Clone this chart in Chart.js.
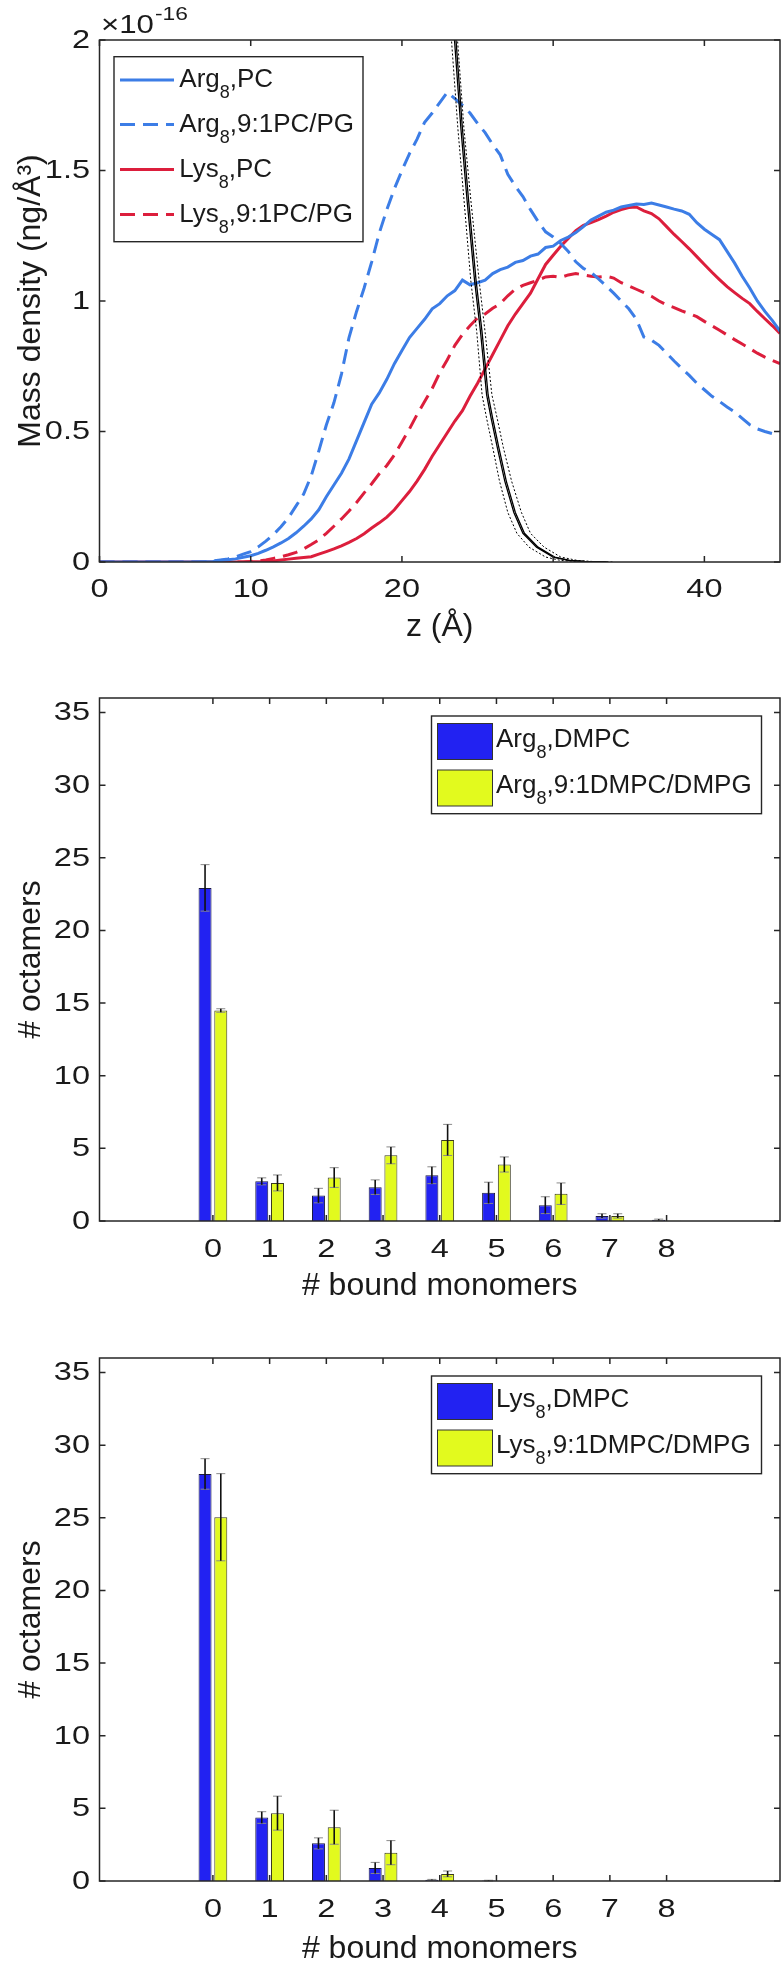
<!DOCTYPE html>
<html>
<head>
<meta charset="utf-8">
<script src="https://cdn.jsdelivr.net/npm/chart.js@4.4.1/dist/chart.umd.min.js"></script>
<style>
  body { margin: 0; background: #fff; overflow: hidden; }
  .panel { position: absolute; left: 0; width: 784px; }
</style>
</head>
<body>
<div class="panel" style="top:0;height:660px"><canvas id="densityChart"></canvas></div>
<div class="panel" style="top:660px;height:660px"><canvas id="argChart"></canvas></div>
<div class="panel" style="top:1320px;height:644px"><canvas id="lysChart"></canvas></div>
<script>
// ---- panel 1: mass density profiles ----
const zGrid = [0, 1, 2, 3, 4, 5, 6,
  7, 7.5, 8, 8.5, 9, 9.5, 10, 10.5, 11, 11.5, 12, 12.5, 13, 13.5, 14, 14.5, 15, 15.5,
  16, 16.5, 17, 17.5, 18, 18.5, 19, 19.5, 20, 20.5, 21, 21.5, 22, 22.5, 23, 23.5, 24, 24.5,
  25, 25.5, 26, 26.5, 27, 27.5, 28, 28.5, 29, 29.5, 30, 30.5, 31, 31.5, 32, 32.5, 33, 33.5,
  34, 34.5, 35, 35.5, 36, 36.5, 37, 37.5, 38, 38.5, 39, 39.5, 40, 40.5, 41, 41.5, 42, 42.5,
  43, 43.5, 44, 44.5, 45];

const argPC = [0, 0, 0, 0, 0, 0, 0,
  0.001, 0.002, 0.006, 0.009, 0.012, 0.018, 0.024, 0.033, 0.045, 0.058, 0.073, 0.09, 0.112, 0.137, 0.165, 0.2, 0.25, 0.295,
  0.34, 0.395, 0.465, 0.535, 0.605, 0.648, 0.7, 0.76, 0.81, 0.86, 0.895, 0.93, 0.97, 0.99, 1.02, 1.04, 1.08, 1.062,
  1.07, 1.08, 1.105, 1.12, 1.13, 1.148, 1.155, 1.172, 1.18, 1.205, 1.21, 1.232, 1.245, 1.262, 1.285, 1.31, 1.325, 1.34,
  1.348, 1.36, 1.366, 1.372, 1.37, 1.375, 1.368, 1.36, 1.352, 1.345, 1.332, 1.3, 1.275, 1.255, 1.235, 1.19, 1.145, 1.095,
  1.05, 1.0, 0.96, 0.925, 0.885];

const argPG = [0, 0, 0, 0, 0, 0, 0,
  0.001, 0.004, 0.008, 0.012, 0.02, 0.03, 0.04, 0.058, 0.08, 0.105, 0.135, 0.17, 0.215, 0.26, 0.33, 0.425, 0.525, 0.61,
  0.72, 0.86, 0.96, 1.05, 1.15, 1.26, 1.35, 1.43, 1.5, 1.565, 1.62, 1.685, 1.72, 1.76, 1.8, 1.775, 1.75, 1.72,
  1.68, 1.645, 1.6, 1.56, 1.485, 1.44, 1.4, 1.35, 1.305, 1.265, 1.245, 1.22, 1.19, 1.15, 1.125, 1.11, 1.085, 1.058,
  1.03, 1.0, 0.97, 0.93, 0.862, 0.85, 0.83, 0.8, 0.77, 0.742, 0.715, 0.685, 0.66, 0.635, 0.615, 0.594, 0.575, 0.55,
  0.526, 0.51, 0.5, 0.492, 0.5];

const lysPC = [0, 0, 0, 0, 0, 0, 0,
  0, 0, 0, 0, 0, 0, 0.001, 0.001, 0.002, 0.004, 0.008, 0.011, 0.014, 0.017, 0.02, 0.03, 0.04, 0.05,
  0.062, 0.075, 0.09, 0.108, 0.13, 0.15, 0.172, 0.2, 0.235, 0.27, 0.31, 0.355, 0.405, 0.45, 0.495, 0.54, 0.58, 0.635,
  0.685, 0.74, 0.795, 0.85, 0.905, 0.95, 0.99, 1.03, 1.085, 1.14, 1.175, 1.21, 1.24, 1.27, 1.29, 1.3, 1.312, 1.325,
  1.34, 1.35, 1.358, 1.36, 1.345, 1.335, 1.315, 1.285, 1.255, 1.228, 1.2, 1.17, 1.14, 1.11, 1.082, 1.055, 1.032, 1.01,
  0.99, 0.96, 0.932, 0.905, 0.876];

const lysPG = [0, 0, 0, 0, 0, 0, 0,
  0, 0, 0, 0, 0, 0, 0.002, 0.004, 0.008, 0.014, 0.02, 0.028, 0.037, 0.05, 0.067, 0.085, 0.11, 0.137,
  0.165, 0.195, 0.228, 0.265, 0.3, 0.338, 0.37, 0.41, 0.46, 0.51, 0.565, 0.615, 0.665, 0.725, 0.775, 0.83, 0.872, 0.905,
  0.935, 0.95, 0.972, 0.99, 1.02, 1.045, 1.06, 1.07, 1.08, 1.092, 1.095, 1.09, 1.1, 1.105, 1.1, 1.095, 1.092, 1.095,
  1.088, 1.07, 1.058, 1.045, 1.032, 1.018, 1.0, 0.985, 0.975, 0.962, 0.952, 0.94, 0.922, 0.905, 0.888, 0.87, 0.852, 0.835,
  0.818, 0.8, 0.785, 0.772, 0.76];

// lipid head-group density (black), solid pair and dotted envelope
const lipidV     = [2.85, 2.45, 2.06, 1.66, 1.39, 1.08, 0.88, 0.64, 0.55, 0.44, 0.31, 0.19, 0.11, 0.057, 0.019, 0.006, 0.002, 0];
const lipidZa    = [22.4, 22.9, 23.4, 23.9, 24.3, 24.8, 25.2, 25.6, 25.9, 26.3, 26.8, 27.4, 28.0, 28.9, 30.0, 31.0, 32.0, 33.5];
const lipidZb    = [22.5, 23.0, 23.5, 24.0, 24.4, 24.9, 25.3, 25.7, 26.0, 26.4, 26.9, 27.5, 28.1, 29.0, 30.1, 31.1, 32.1, 33.6];
const lipidZlo   = [22.2, 22.7, 23.2, 23.7, 24.1, 24.55, 24.95, 25.3, 25.6, 26.0, 26.45, 27.0, 27.6, 28.4, 29.5, 30.5, 31.5, 33.0];
const lipidZhi   = [22.6, 23.1, 23.6, 24.1, 24.55, 25.1, 25.5, 25.95, 26.3, 26.7, 27.25, 27.9, 28.5, 29.4, 30.5, 31.6, 32.6, 34.0];

const zTicks = [0, 10, 20, 30, 40];
const densityTicks = [0, 0.5, 1, 1.5, 2];

// ---- panels 2 and 3: bound monomers ----
const monomers = [0, 1, 2, 3, 4, 5, 6, 7, 8];
const countTicks = [0, 5, 10, 15, 20, 25, 30, 35];

const argDMPC      = [22.93, 2.73, 1.75, 2.33, 3.15, 1.94, 1.09, 0.35, 0.08];
const argDMPCErr   = [1.6, 0.24, 0.5, 0.5, 0.58, 0.73, 0.58, 0.15, 0.05];
const argMix       = [14.49, 2.62, 2.99, 4.52, 5.58, 3.89, 1.88, 0.35, 0.02];
const argMixErr    = [0.12, 0.55, 0.68, 0.58, 1.07, 0.52, 0.74, 0.15, 0];

const lysDMPC      = [28.02, 4.37, 2.59, 0.9, 0.08, 0.03, 0, 0, 0];
const lysDMPCErr   = [1.05, 0.4, 0.38, 0.38, 0.03, 0.02, 0, 0, 0];
const lysMix       = [25.04, 4.67, 3.7, 1.95, 0.49, 0, 0, 0, 0];
const lysMixErr    = [3.0, 1.17, 1.17, 0.83, 0.2, 0, 0, 0, 0];

const FONT = "'Liberation Sans', Arial, Helvetica, sans-serif";
const TEXT = '#1a1a1a';
const AXIS = '#262626';
const BLUE = '#3c7de6';
const RED = '#dc1e3c';
const BAR_BLUE = '#2222f2';
const BAR_YELLOW = '#e2fa1e';

Chart.defaults.font.family = FONT;
Chart.defaults.color = TEXT;

const pts = (xs, ys) => xs.map((x, i) => ({ x: x, y: ys[i] }));

// text with _x subscripts
function drawRich(ctx, text, x, y, size, subSize, subDrop) {
  const parts = text.split(/_(\w)/);
  let cx = x;
  parts.forEach((p, i) => {
    if (!p) return;
    const sub = i % 2 === 1;
    ctx.font = (sub ? subSize : size) + 'px ' + FONT;
    ctx.fillText(p, cx, sub ? y + subDrop : y);
    cx += ctx.measureText(p).width;
  });
}

// the tick numbers in the figure are wide, so draw them a bit stretched
function wideText(ctx, text, x, y, sx) {
  ctx.save();
  ctx.translate(x, y);
  ctx.scale(sx, 1);
  ctx.fillText(text, 0, 0);
  ctx.restore();
}

// matlab style box with inward ticks on all sides, plus tick labels
const boxAxes = {
  id: 'boxAxes',
  afterDatasetsDraw(chart, args, o) {
    const { ctx, chartArea: a, scales } = chart;
    const tl = 6;
    ctx.save();
    ctx.strokeStyle = AXIS;
    ctx.lineWidth = 1.5;
    ctx.beginPath();
    scales.x.ticks.forEach(t => {
      const px = scales.x.getPixelForValue(t.value);
      ctx.moveTo(px, a.bottom); ctx.lineTo(px, a.bottom - tl);
      ctx.moveTo(px, a.top); ctx.lineTo(px, a.top + tl);
    });
    scales.y.ticks.forEach(t => {
      const py = scales.y.getPixelForValue(t.value);
      ctx.moveTo(a.left, py); ctx.lineTo(a.left + tl, py);
      ctx.moveTo(a.right, py); ctx.lineTo(a.right - tl, py);
    });
    ctx.stroke();
    ctx.strokeRect(a.left, a.top, a.right - a.left, a.bottom - a.top);

    ctx.fillStyle = TEXT;
    ctx.font = o.size + 'px ' + FONT;
    ctx.textBaseline = 'middle';
    ctx.textAlign = 'center';
    scales.x.ticks.forEach(t => {
      wideText(ctx, String(t.value), scales.x.getPixelForValue(t.value), a.bottom + o.xGap, o.sx);
    });
    ctx.textAlign = 'right';
    scales.y.ticks.forEach(t => {
      wideText(ctx, String(t.value), a.left - o.yGap, scales.y.getPixelForValue(t.value) + 1, o.sx);
    });
    ctx.restore();
  }
};

// error bars read from dataset.errors
const errorBars = {
  id: 'errorBars',
  afterDatasetsDraw(chart) {
    const { ctx, scales } = chart;
    ctx.save();
    chart.data.datasets.forEach((ds, d) => {
      if (!ds.errors) return;
      chart.getDatasetMeta(d).data.forEach((bar, i) => {
        const v = ds.data[i].y, e = ds.errors[i];
        if (!e) return;
        const hi = scales.y.getPixelForValue(v + e);
        const lo = scales.y.getPixelForValue(Math.max(v - e, 0));
        ctx.strokeStyle = '#8a8a8a';
        ctx.lineWidth = 1;
        ctx.beginPath();
        ctx.moveTo(bar.x - 4.5, hi); ctx.lineTo(bar.x + 4.5, hi);
        ctx.moveTo(bar.x - 4.5, lo); ctx.lineTo(bar.x + 4.5, lo);
        ctx.stroke();
        ctx.strokeStyle = '#111';
        ctx.lineWidth = 1.6;
        ctx.beginPath();
        ctx.moveTo(bar.x, hi); ctx.lineTo(bar.x, lo);
        ctx.stroke();
      });
    });
    ctx.restore();
  }
};

// boxed legend with subscripts
const boxLegend = {
  id: 'boxLegend',
  afterDraw(chart, args, o) {
    if (!o || !o.rows) return;
    const { ctx, chartArea: a } = chart;
    const bx = a.left + o.left, by = a.top + o.top;
    ctx.save();
    ctx.fillStyle = '#fff';
    ctx.fillRect(bx, by, o.width, o.height);
    ctx.strokeStyle = AXIS;
    ctx.lineWidth = 1.4;
    ctx.strokeRect(bx, by, o.width, o.height);
    chart.data.datasets.filter(d => d.label).forEach((d, i) => {
      const base = by + o.rows[i];
      if (o.kind === 'line') {
        ctx.strokeStyle = d.borderColor;
        ctx.lineWidth = d.borderWidth;
        ctx.setLineDash(d.borderDash || []);
        ctx.beginPath();
        ctx.moveTo(bx + o.sample[0], base - o.lift);
        ctx.lineTo(bx + o.sample[1], base - o.lift);
        ctx.stroke();
        ctx.setLineDash([]);
      } else {
        ctx.fillStyle = d.backgroundColor;
        ctx.fillRect(bx + o.sample[0], base - o.lift, o.sample[1] - o.sample[0], o.patchH);
        ctx.strokeStyle = '#333';
        ctx.lineWidth = 1;
        ctx.strokeRect(bx + o.sample[0], base - o.lift, o.sample[1] - o.sample[0], o.patchH);
      }
      ctx.fillStyle = TEXT;
      ctx.textBaseline = 'alphabetic';
      ctx.textAlign = 'left';
      drawRich(ctx, d.label, bx + o.textX, base, o.size, o.subSize, o.subDrop);
    });
    ctx.restore();
  }
};

// x10^-16 multiplier above the y axis
const multiplier = {
  id: 'multiplier',
  afterDraw(chart, args, o) {
    if (!o || !o.text) return;
    const { ctx } = chart;
    ctx.save();
    ctx.fillStyle = TEXT;
    ctx.textBaseline = 'alphabetic';
    ctx.textAlign = 'left';
    ctx.font = '26px ' + FONT;
    wideText(ctx, o.text, o.x, o.y, 1.2);
    const w = ctx.measureText(o.text).width * 1.2;
    ctx.font = '19px ' + FONT;
    wideText(ctx, o.exp, o.x + w + 1, o.y - 13, 1.2);
    ctx.restore();
  }
};

const fixTicks = list => s => { s.ticks = list.map(v => ({ value: v })); };
const TITLE_SIZE = 32;

function axisX(opts) {
  return Object.assign({
    type: 'linear',
    offset: false,
    grid: { display: false, drawTicks: false },
    border: { display: false },
    ticks: { display: false },
  }, opts);
}
function axisY(opts) {
  return Object.assign({
    type: 'linear',
    grid: { display: false, drawTicks: false },
    border: { display: false },
    afterFit: s => { s.width = 99.5; },
    ticks: { display: false },
  }, opts);
}

const lineStyle = { pointRadius: 0, borderWidth: 3, tension: 0, fill: false };
const lipidStyle = { pointRadius: 0, borderColor: '#000', tension: 0, fill: false, order: -1 };

new Chart(document.getElementById('densityChart'), {
  type: 'line',
  data: {
    datasets: [
      Object.assign({ label: 'Arg_8,PC', data: pts(zGrid, argPC), borderColor: BLUE }, lineStyle),
      Object.assign({ label: 'Arg_8,9:1PC/PG', data: pts(zGrid, argPG), borderColor: BLUE, borderDash: [15, 8] }, lineStyle),
      Object.assign({ label: 'Lys_8,PC', data: pts(zGrid, lysPC), borderColor: RED }, lineStyle),
      Object.assign({ label: 'Lys_8,9:1PC/PG', data: pts(zGrid, lysPG), borderColor: RED, borderDash: [15, 8] }, lineStyle),
      Object.assign({ data: pts(lipidZa, lipidV), borderWidth: 1.3 }, lipidStyle),
      Object.assign({ data: pts(lipidZb, lipidV), borderWidth: 1.3 }, lipidStyle),
      Object.assign({ data: pts(lipidZlo, lipidV), borderWidth: 1, borderDash: [2, 2] }, lipidStyle),
      Object.assign({ data: pts(lipidZhi, lipidV), borderWidth: 1, borderDash: [2, 2] }, lipidStyle)
    ]
  },
  options: {
    responsive: true,
    maintainAspectRatio: false,
    animation: false,
    events: [],
    layout: { padding: { top: 40, right: 4, left: 0, bottom: 0 } },
    scales: {
      x: axisX({
        min: 0, max: 45,
        afterBuildTicks: fixTicks(zTicks),
        afterFit: s => { s.height = 98; },
        title: { display: true, text: 'z (Å)', font: { size: TITLE_SIZE }, color: TEXT, padding: { top: 0, bottom: 13.8 } }
      }),
      y: axisY({
        min: 0, max: 2,
        afterBuildTicks: fixTicks(densityTicks),
        title: { display: true, text: 'Mass density (ng/Å³)', font: { size: TITLE_SIZE }, color: TEXT, padding: { top: 11.8, bottom: 0 } }
      })
    },
    plugins: {
      legend: { display: false },
      tooltip: { enabled: false },
      boxAxes: { size: 25, sx: 1.3, xGap: 28, yGap: 9.5 },
      boxLegend: { kind: 'line', left: 14.5, top: 16.7, width: 249, height: 185,
        rows: [30.6, 75, 120, 165], lift: 7.3, sample: [6, 60], textX: 65.3, size: 26, subSize: 18, subDrop: 11 },
      multiplier: { text: '×10', exp: '-16', x: 101, y: 33 }
    }
  },
  plugins: [boxAxes, boxLegend, multiplier]
});

function monomerChart(id, labels, series, errs, xPadBottom, xAxisH) {
  return new Chart(document.getElementById(id), {
    type: 'bar',
    data: {
      datasets: [
        { label: labels[0], data: pts(monomers, series[0]), errors: errs[0], backgroundColor: BAR_BLUE, borderColor: '#1a1a40', borderWidth: 1 },
        { label: labels[1], data: pts(monomers, series[1]), errors: errs[1], backgroundColor: BAR_YELLOW, borderColor: '#3a3a20', borderWidth: 1 }
      ]
    },
    options: {
      responsive: true,
      maintainAspectRatio: false,
      animation: false,
      events: [],
      categoryPercentage: 0.555,
      barPercentage: 0.825,
      layout: { padding: { top: 38, right: 4, left: 0, bottom: 0 } },
      scales: {
        x: axisX({
          min: -2, max: 10,
          afterBuildTicks: fixTicks(monomers),
          afterFit: s => { s.height = xAxisH; },
          title: { display: true, text: '# bound monomers', font: { size: TITLE_SIZE }, color: TEXT, padding: { top: 0, bottom: xPadBottom } }
        }),
        y: axisY({
          min: 0, max: 36,
          afterBuildTicks: fixTicks(countTicks),
          title: { display: true, text: '# octamers', font: { size: TITLE_SIZE }, color: TEXT, padding: { top: 11.8, bottom: 0 } }
        })
      },
      plugins: {
        legend: { display: false },
        tooltip: { enabled: false },
        boxAxes: { size: 25, sx: 1.3, xGap: 29, yGap: 9.5 },
        boxLegend: { kind: 'patch', left: 332, top: 18, width: 330, height: 97.7,
          rows: [30.5, 77], lift: 23, patchH: 36, sample: [6, 61], textX: 64.5, size: 26, subSize: 18, subDrop: 11 }
      }
    },
    plugins: [errorBars, boxAxes, boxLegend]
  });
}

monomerChart('argChart', ['Arg_8,DMPC', 'Arg_8,9:1DMPC/DMPG'], [argDMPC, argMix], [argDMPCErr, argMixErr], 14.8, 99);
monomerChart('lysChart', ['Lys_8,DMPC', 'Lys_8,9:1DMPC/DMPG'], [lysDMPC, lysMix], [lysDMPCErr, lysMixErr], -4, 83);
</script>
</body>
</html>
